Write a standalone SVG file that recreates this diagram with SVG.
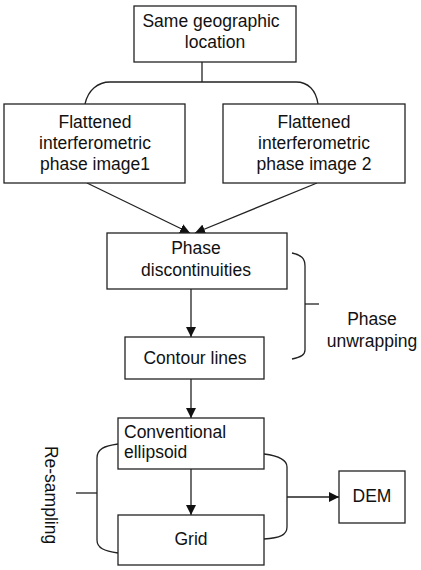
<svg xmlns="http://www.w3.org/2000/svg" width="421" height="570" viewBox="0 0 421 570">
<style>
.box{fill:#fff;stroke:#222;stroke-width:1.3}
.ln{fill:none;stroke:#222;stroke-width:1.3}
text{font-family:"Liberation Sans",Arial,sans-serif;font-size:17.5px;fill:#111}
.c{text-anchor:middle}
</style>
<defs>
<marker id="ah" viewBox="0 0 10 10" refX="10" refY="5" markerWidth="10" markerHeight="10" markerUnits="userSpaceOnUse" orient="auto">
<path d="M0,0 L10,5 L0,10 Z" fill="#111"/>
</marker>
</defs>
<rect width="421" height="570" fill="#fff"/>
<g id="connectors">
<path class="ln" d="M202,62 V82"/>
<path class="ln" d="M85,104 C88,90 98,82 110,82 H296 C308,82 316,90 318,104"/>
<path class="ln" d="M87,183 L190,233" marker-end="url(#ah)"/>
<path class="ln" d="M317,183 L195,233" marker-end="url(#ah)"/>
<path class="ln" d="M191,289 V337" marker-end="url(#ah)"/>
<path class="ln" d="M191,379 V418" marker-end="url(#ah)"/>
<path class="ln" d="M191,469 V515" marker-end="url(#ah)"/>
<path class="ln" d="M292,253 C301,255 305,258 305,266 V350 C305,355 301,357 292,359"/>
<path class="ln" d="M305,304 H319"/>
<path class="ln" d="M118,444 C104,446 97,449 97,458 V540 C97,548 104,551 118,553"/>
<path class="ln" d="M76,493 H97"/>
<path class="ln" d="M264,454 C280,456 287,460 287,467 V527 C287,535 280,538 264,539"/>
<path class="ln" d="M287,497 H339" marker-end="url(#ah)"/>
</g>
<g id="n-location">
<rect class="box" x="134" y="6" width="162" height="56"/>
<text class="c" x="211" y="27">Same geographic</text>
<text class="c" x="215" y="48">location</text>
</g>
<g id="n-image1">
<rect class="box" x="4" y="104" width="181" height="79"/>
<text class="c" x="95" y="128">Flattened</text>
<text class="c" x="95" y="149">interferometric</text>
<text class="c" x="95" y="170">phase image1</text>
</g>
<g id="n-image2">
<rect class="box" x="223" y="104" width="182" height="79"/>
<text class="c" x="314" y="128">Flattened</text>
<text class="c" x="314" y="149">interferometric</text>
<text class="c" x="314" y="170">phase image 2</text>
</g>
<g id="n-discont">
<rect class="box" x="107" y="233" width="180" height="56"/>
<text class="c" x="196" y="254">Phase</text>
<text class="c" x="196" y="276">discontinuities</text>
</g>
<g id="n-contour">
<rect class="box" x="125" y="337" width="139" height="42"/>
<text class="c" x="195" y="364">Contour lines</text>
</g>
<g id="l-unwrap">
<text class="c" x="372" y="325">Phase</text>
<text class="c" x="372" y="347">unwrapping</text>
</g>
<g id="n-ellipsoid">
<rect class="box" x="118" y="418" width="146" height="51"/>
<text x="124" y="438">Conventional</text>
<text x="124" y="458">ellipsoid</text>
</g>
<g id="n-grid">
<rect class="box" x="118" y="515" width="146" height="50"/>
<text class="c" x="191" y="545">Grid</text>
</g>
<g id="n-dem">
<rect class="box" x="339" y="471" width="66" height="52"/>
<text class="c" x="372" y="502">DEM</text>
</g>
<g id="l-resampling">
<text class="c" transform="translate(45,495) rotate(90)">Re-sampling</text>
</g>
</svg>
